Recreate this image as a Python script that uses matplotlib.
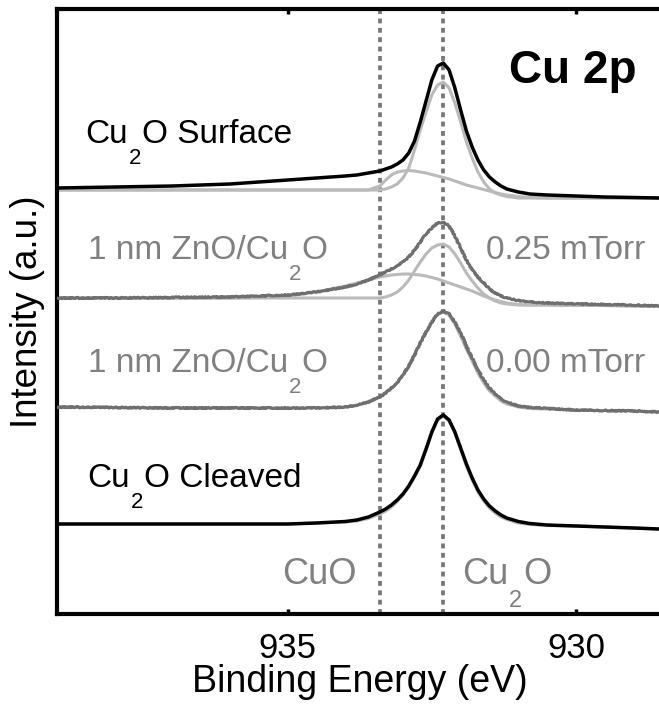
import matplotlib
matplotlib.use("Agg")
import matplotlib.pyplot as plt
import numpy as np

plt.rcParams['font.family'] = ['Liberation Sans', 'DejaVu Sans']

# ---- data (binding energy in eV, intensity in arbitrary offset units) ----
energy = [939.0, 938.0, 937.0, 936.0, 935.5, 935.0, 934.5, 934.0, 933.8, 933.6,
          933.4, 933.3, 933.2, 933.1, 933.0, 932.9, 932.8, 932.7, 932.6, 932.5,
          932.4, 932.3, 932.2, 932.1, 932.0, 931.9, 931.8, 931.7, 931.6, 931.5,
          931.4, 931.3, 931.2, 931.0, 930.8, 930.5, 930.0, 929.5, 929.0, 928.56]

surface = [426, 427, 428, 430, 432, 434, 436, 438, 439, 441,
           443, 445, 447, 450, 454, 461, 473, 492, 513, 534,
           548, 551, 544, 526, 504, 483, 467, 454, 444, 437,
           432, 428, 425, 422, 420, 419, 418, 417, 416.5, 416]
surface_cu2o_fit = [424, 424, 424, 424, 424, 424, 424, 424, 424, 424,
                    424, 425, 427, 430, 436, 446, 464, 484, 502, 519,
                    529, 532, 526, 511, 492, 472, 456, 442, 432, 425,
                    421, 419, 417.5, 416, 416, 416, 416, 416, 416, 416]
surface_broad_fit = [424, 424, 424, 424, 424, 424, 424, 424, 424, 424,
                     428, 434, 439, 442, 443, 443.5, 443, 442, 441, 439.5,
                     438, 436.5, 435, 433, 431, 429, 427.5, 426, 424.5, 423,
                     421.5, 420, 419, 417.5, 416.5, 416, 416, 416, 416, 416]

zno_025 = [316, 316, 316.5, 317, 318, 319, 322, 327, 330, 334,
           339, 342, 345, 348, 352, 357, 364, 372, 380, 386,
           391, 392, 388, 378, 366, 354, 344, 337, 331, 325,
           321, 318, 316, 313.5, 312, 311, 310, 309.5, 309, 308]
zno_025_cu2o_fit = [316, 316, 316, 316, 316, 316, 316, 316, 316, 316,
                    316, 317, 319, 322, 327, 334, 343, 352, 360, 366,
                    369, 370, 367, 360, 351, 341, 333, 326, 320, 316,
                    313, 311, 310, 309, 309, 309, 308.5, 308.5, 308, 308]
zno_025_broad_fit = [316, 316, 316, 316, 316.5, 318, 322, 328, 331, 334,
                     337, 338, 339, 339.5, 340, 340, 339.5, 339, 338, 336.5,
                     335, 333, 331, 329, 327, 325, 323, 320.5, 318, 316,
                     314, 312.5, 311, 309.5, 309, 309, 308.5, 308.5, 308, 308]

zno_000 = [207, 206.5, 206, 206, 206, 206, 206, 207, 209, 212,
           217, 221, 226, 231, 239, 248, 259, 271, 282, 292,
           300, 303, 300, 292, 281, 268, 256, 244, 234, 226,
           220, 215, 212, 208, 206.5, 205.5, 204, 203.5, 203, 202]
zno_000_fit = [207, 206.5, 206, 206, 206, 206, 206, 207, 209, 212,
               217, 221, 226, 231, 239, 248, 259, 271, 282, 292,
               300, 302, 299, 290, 278, 265, 253, 241, 231, 223,
               218, 213, 210, 207, 205.5, 205, 204, 203.5, 203, 202]

cleaved = [90, 90, 90, 90, 90, 90, 91, 92.5, 94, 97,
           102, 105, 109, 114, 120, 128, 138, 149, 165, 182,
           195, 199, 194, 182, 166, 150, 136, 124, 115, 108,
           103, 99, 96, 92.5, 90.5, 89, 88, 87, 86, 85]
cleaved_fit = [90, 90, 90, 90, 90, 90, 91, 92, 93, 95.5,
               100, 103, 107, 112.5, 119, 127, 137, 148, 164, 181,
               194, 198, 193, 181, 164.5, 148, 134, 122, 113, 106,
               101, 97, 94.5, 91, 89.5, 88.5, 88, 87, 86, 85]

reference_lines = [933.4, 932.3]   # CuO, Cu2O
xticks = [935, 930]

# ---- styles ----
BLACK = '#000000'
DARK = '#6f6f6f'
LIGHT = '#bababa'
TXTGRAY = '#808080'
DOT = '#777777'

fig = plt.figure(figsize=(6.59, 7.04), dpi=100)
ax = fig.add_axes([57 / 659, 90 / 704, 602 / 659, 605 / 704])

for xv in reference_lines:
    ax.axvline(xv, color=DOT, lw=2.7, ls=(0, (1.3, 1.2)), zorder=1)

# fits (light gray)
for fit in (surface_cu2o_fit, surface_broad_fit, zno_025_cu2o_fit,
            zno_025_broad_fit, zno_000_fit, cleaved_fit):
    ax.plot(energy, fit, color=LIGHT, lw=2.2, zorder=2, solid_joinstyle='round')

# spectra
ax.plot(energy, surface, color=BLACK, lw=2.5, zorder=4, solid_joinstyle='round')
ax.plot(energy, cleaved, color=BLACK, lw=2.5, zorder=4, solid_joinstyle='round')
for spec in (zno_025, zno_000):
    ln, = ax.plot(energy, spec, color=DARK, lw=2.2, zorder=3, solid_joinstyle='round')
    ln.set_sketch_params(scale=0.6, length=2.0, randomness=3.0)

ax.set_xlim(939.0, 928.56)
ax.set_ylim(0, 605)


def sub_label(x, y, pre, sub, post, color, fs, subfs, weight='normal'):
    """Text with a dropped subscript, e.g. Cu2O."""
    t1 = ax.text(x, y, pre, color=color, fontsize=fs, ha='left', va='baseline',
                 fontweight=weight)
    t2 = ax.annotate(sub, xy=(1, 0), xycoords=(t1, t1), xytext=(0.6, 1.5),
                     textcoords='offset points', color=color, fontsize=subfs,
                     ha='left', va='top')
    ax.annotate(post, xy=(1, 0), xycoords=(t2, t1), xytext=(0.6, 0),
                textcoords='offset points', color=color, fontsize=fs,
                ha='left', va='bottom')


fs = 24
sub_label(938.51, 471, 'Cu', '2', 'O Surface', BLACK, fs, 16)
sub_label(938.47, 355, '1 nm ZnO/Cu', '2', 'O', TXTGRAY, fs, 16)
ax.text(931.56, 355, '0.25 mTorr', color=TXTGRAY, fontsize=fs, ha='left', va='baseline')
sub_label(938.47, 242, '1 nm ZnO/Cu', '2', 'O', TXTGRAY, fs, 16)
ax.text(931.56, 242, '0.00 mTorr', color=TXTGRAY, fontsize=fs, ha='left', va='baseline')
sub_label(938.47, 127, 'Cu', '2', 'O Cleaved', BLACK, fs, 16)
ax.text(935.09, 30, 'CuO', color=TXTGRAY, fontsize=26, ha='left', va='baseline')
sub_label(931.98, 30, 'Cu', '2', 'O', TXTGRAY, 26, 17)
ax.text(931.16, 531, 'Cu 2p', color=BLACK, fontsize=33, fontweight='bold',
        ha='left', va='baseline')

# axes styling
for side in ('left', 'top', 'bottom'):
    ax.spines[side].set_linewidth(3.0)
ax.spines['right'].set_visible(False)
ax.set_yticks([])
ax.set_xticks(xticks)
ax.set_xticklabels([str(t) for t in xticks])
ax.tick_params(axis='x', direction='in', top=True, bottom=True, length=3.5,
               width=2.5, labelsize=25, pad=13)
ax.set_xlabel('Binding Energy (eV)', fontsize=27)
ax.xaxis.set_label_coords(0.503, -0.083)
ax.set_ylabel('Intensity (a.u.)', fontsize=26.5)
ax.yaxis.set_label_coords(-0.02, 0.5)

fig.savefig('out.png', dpi=100)
